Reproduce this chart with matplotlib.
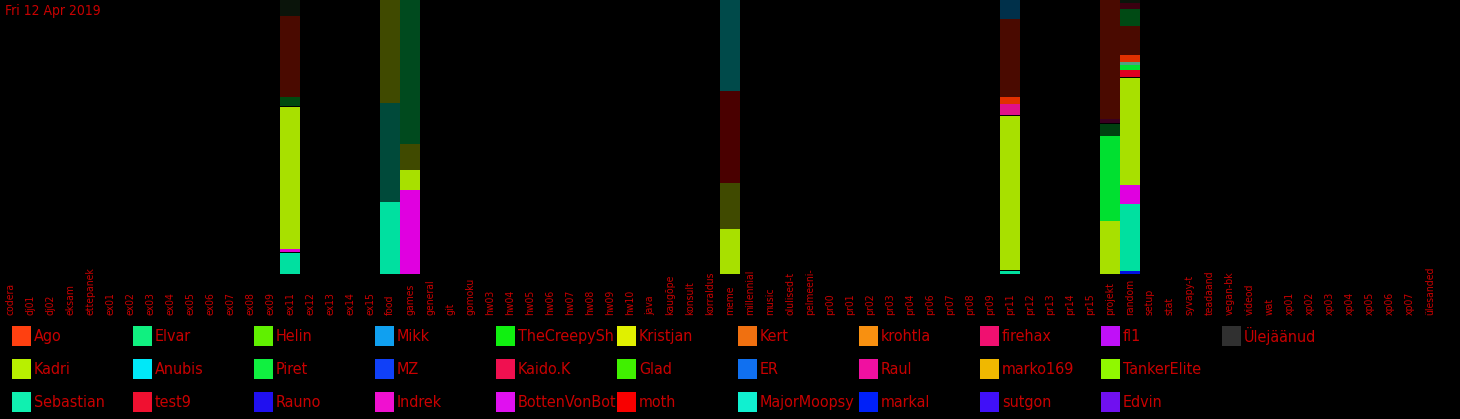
import matplotlib
matplotlib.use("Agg")
import matplotlib.pyplot as plt
import matplotlib.transforms as mtransforms

W, H = 1460, 419
FONT = ["Liberation Sans Narrow", "DejaVu Sans"]
TXT = "#c80000"

title = "Fri 12 Apr 2019"

categories = ["codera", "dj01", "dj02", "eksam", "ettepanek", "ex01", "ex02", "ex03",
              "ex04", "ex05", "ex06", "ex07", "ex08", "ex09", "ex11", "ex12", "ex13",
              "ex14", "ex15", "food", "games", "general", "git", "gomoku", "hw03",
              "hw04", "hw05", "hw06", "hw07", "hw08", "hw09", "hw10", "java", "kaugõpe",
              "konsult", "korraldus", "meme", "millennial", "music", "olulised-t",
              "pelmeeni-", "pr00", "pr01", "pr02", "pr03", "pr04", "pr06", "pr07",
              "pr08", "pr09", "pr11", "pr12", "pr13", "pr14", "pr15", "projekt",
              "random", "setup", "stat", "syvapy-t", "teadaand", "vegan-bk", "videod",
              "wat", "xp01", "xp02", "xp03", "xp04", "xp05", "xp06", "xp07", "ülesanded"]

# stacked shares (percent), bottom to top, with the segment colours
ex11_values = [7.5, 0.4, 1.1, 51.8, 0.4, 3.4, 29.7, 5.7]
ex11_colors = ["#00e0a0", "#000000", "#e000d0", "#a8e000", "#000000", "#004a10", "#4a0a00", "#0a140a"]

food_values = [26.3, 36.0, 37.7]
food_colors = ["#00e0a0", "#004a3a", "#404a00"]

games_values = [30.7, 7.3, 9.5, 52.5]
games_colors = ["#e000e0", "#a8e000", "#404a00", "#004a1e"]

meme_values = [16.4, 16.9, 33.5, 33.2]
meme_colors = ["#a8e000", "#404a00", "#4a0000", "#004a4a"]

pr11_values = [1.2, 0.4, 56.0, 0.3, 4.0, 2.7, 28.3, 0.3, 6.8]
pr11_colors = ["#00e0a0", "#000000", "#a8e000", "#000000", "#e0108a", "#e03000", "#4a0a00", "#000000", "#00304a"]

projekt_values = [19.5, 30.7, 4.5, 0.4, 1.6, 43.3]
projekt_colors = ["#a8e000", "#00e030", "#004010", "#000000", "#3a0020", "#4a0a00"]

random_values = [1.1, 24.5, 6.9, 38.9, 0.4, 2.6, 1.9, 1.0, 2.6, 10.6, 6.1, 2.2, 1.2]
random_colors = ["#0010e0", "#00e0a0", "#e000e0", "#a8e000", "#000000", "#e00020", "#00e030",
                 "#50a080", "#e03000", "#4a0a00", "#004a14", "#3a0010", "#0a140a"]

bars = {"ex11": (ex11_values, ex11_colors), "food": (food_values, food_colors),
        "games": (games_values, games_colors), "meme": (meme_values, meme_colors),
        "pr11": (pr11_values, pr11_colors), "projekt": (projekt_values, projekt_colors),
        "random": (random_values, random_colors)}

legend_names = ["Ago", "Kadri", "Sebastian", "Elvar", "Anubis", "test9", "Helin", "Piret",
                "Rauno", "Mikk", "MZ", "Indrek", "TheCreepySh", "Kaido.K", "BottenVonBot",
                "Kristjan", "Glad", "moth", "Kert", "ER", "MajorMoopsy", "krohtla", "Raul",
                "markal", "firehax", "marko169", "sutgon", "fl1", "TankerElite", "Edvin",
                "Ülejäänud"]
legend_colors = ["#ff4010", "#b8f000", "#10f0b0", "#10f080", "#00e8f8", "#f01030", "#60f000",
                 "#10f040", "#2010f0", "#10a0f0", "#1040f8", "#f010d0", "#10f010", "#f01050",
                 "#e010f0", "#e0f000", "#40f000", "#f80000", "#f07010", "#1070f0", "#10f0d0",
                 "#f89010", "#f010a0", "#0020f8", "#f01070", "#f0b800", "#4010f8", "#c010f8",
                 "#90f800", "#7010f0", "#303030"]

fig = plt.figure(figsize=(W / 100, H / 100), dpi=100, facecolor="black")
ax = fig.add_axes([0, 145 / H, 1440 / W, 274 / H])
ax.set_facecolor("black")
ax.set_xlim(0, len(categories))
ax.set_ylim(0, 100)
ax.axis("off")

for name, (vals, cols) in bars.items():
    i = categories.index(name)
    bottom = 0.0
    for v, c in zip(vals, cols):
        ax.bar(i + 0.5, v, width=1.0, bottom=bottom, color=c, linewidth=0)
        bottom += v

trans = mtransforms.blended_transform_factory(ax.transData, fig.transFigure)
for i, lab in enumerate(categories):
    ax.text(i + 0.5, 104 / H, lab, transform=trans, rotation=90, ha="center", va="bottom",
            color=TXT, fontsize=7.5, family=FONT, fontstretch="condensed", clip_on=False)

fig.text(5 / W, 1 - 4 / H, title, ha="left", va="top", color=TXT, fontsize=10,
         family=FONT, fontstretch="condensed")

col_w = 121
for k, (nm, c) in enumerate(zip(legend_names, legend_colors)):
    col, row = divmod(k, 3)
    x0 = 12 + col * col_w
    yc = 336 + row * 33
    fig.text((x0 + 22) / W, 1 - yc / H, nm, ha="left", va="center", color=TXT,
             fontsize=11.5, family=FONT, fontstretch="condensed", zorder=2)
    fig.patches.append(plt.Rectangle((x0 / W, 1 - (yc + 10) / H), 19 / W, 20 / H,
                                     transform=fig.transFigure, facecolor=c, edgecolor="none",
                                     zorder=5))

fig.savefig("out.png", dpi=100, facecolor="black")
